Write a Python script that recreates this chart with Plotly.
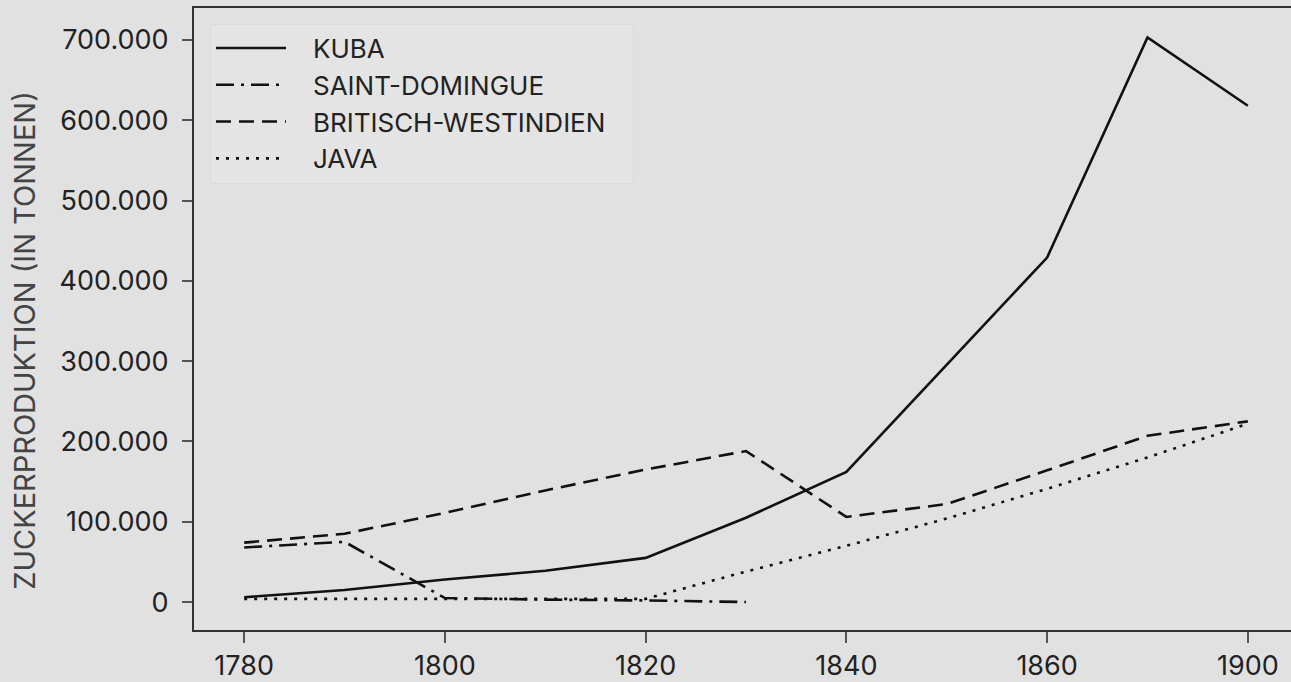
import plotly.graph_objects as go

# Zuckerproduktion in Tonnen
kuba_jahre = [1780, 1790, 1800, 1810, 1820, 1830, 1840, 1850, 1860, 1870, 1880]
kuba = [6000, 15000, 28000, 39000, 55000, 105000, 162000, 296000, 429000, 703000, 618000]

sd_jahre = [1780, 1790, 1800, 1810, 1820, 1830]
saint_domingue = [68000, 75000, 5000, 3000, 2000, 0]

bw_jahre = [1780, 1790, 1800, 1810, 1820, 1830, 1840, 1850, 1860, 1870, 1880]
britisch_westindien = [74000, 85000, 111000, 139000, 165000, 188000, 106000, 122000,
                       164000, 207000, 225000]

java_jahre = [1780, 1790, 1800, 1810, 1820, 1830, 1840, 1850, 1860, 1870, 1880]
java = [4000, 4000, 4000, 4000, 4000, 38000, 70000, 104000, 141000, 180000, 222000]

x_ticks = [1780, 1800, 1820, 1840, 1860, 1880]
x_labels = ["1780", "1800", "1820", "1840", "1860", "1900"]
y_ticks = [0, 100000, 200000, 300000, 400000, 500000, 600000, 700000]

BG = "#e1e1e1"
INK = "#111111"
NBSP = "\u00a0"

serien = [
    ("KUBA", kuba_jahre, kuba, "solid"),
    ("SAINT-DOMINGUE", sd_jahre, saint_domingue, "18px,7px,3px,7px"),
    ("BRITISCH-WESTINDIEN", bw_jahre, britisch_westindien, "15px,8px"),
    ("JAVA", java_jahre, java, "3px,7px"),
]

fig = go.Figure()
for i, (name, xs, ys, dash) in enumerate(serien):
    # padding keeps the legend labels clear of the long line samples
    fig.add_trace(go.Scatter(x=xs, y=ys, name=NBSP * 3 + name + NBSP * 3, mode="lines",
                             legendgroup=str(i),
                             line=dict(color=INK, width=2.6, dash=dash)))

fig.update_layout(
    width=1291, height=682,
    paper_bgcolor=BG, plot_bgcolor=BG,
    margin=dict(l=194, r=0, t=8, b=50),
    separators=",.",
    font=dict(family="Inter, Roboto, sans-serif", color="#222222"),
    showlegend=True,
    legend=dict(x=0.0146, y=0.975, xanchor="left", yanchor="top",
                bgcolor="#e4e4e4", bordercolor="#dadada", borderwidth=1,
                font=dict(family="Inter, sans-serif", size=26, color="#222222"),
                itemwidth=70, traceorder="grouped", tracegroupgap=0),
    annotations=[dict(text="ZUCKERPRODUKTION (IN TONNEN)", textangle=-90,
                      xref="paper", yref="paper", x=-0.154, y=0.465,
                      xanchor="center", yanchor="middle", showarrow=False,
                      font=dict(size=29, color="#444444"))],
)

fig.update_xaxes(
    range=[1775.0, 1884.3], tickvals=x_ticks, ticktext=x_labels,
    showgrid=False, zeroline=False,
    showline=True, linecolor="#333333", linewidth=2, mirror=True,
    ticks="outside", ticklen=11, tickwidth=1.5, tickcolor="#555555",
    tickfont=dict(size=27), ticklabelstandoff=0,
)
fig.update_yaxes(
    range=[-34800, 739700], tickvals=y_ticks, tickformat=",d",
    showgrid=False, zeroline=False,
    showline=True, linecolor="#333333", linewidth=2, mirror=False,
    ticks="outside", ticklen=10, tickwidth=1.5, tickcolor="#555555",
    tickfont=dict(size=27), ticklabelstandoff=8,
)

# the page body has a default 8px margin; drop it so the figure fills the window
fig.write_html("out.html", config={"displayModeBar": False},
               post_script="document.body.style.margin='0';"
                           "document.body.style.background='#e1e1e1';")
